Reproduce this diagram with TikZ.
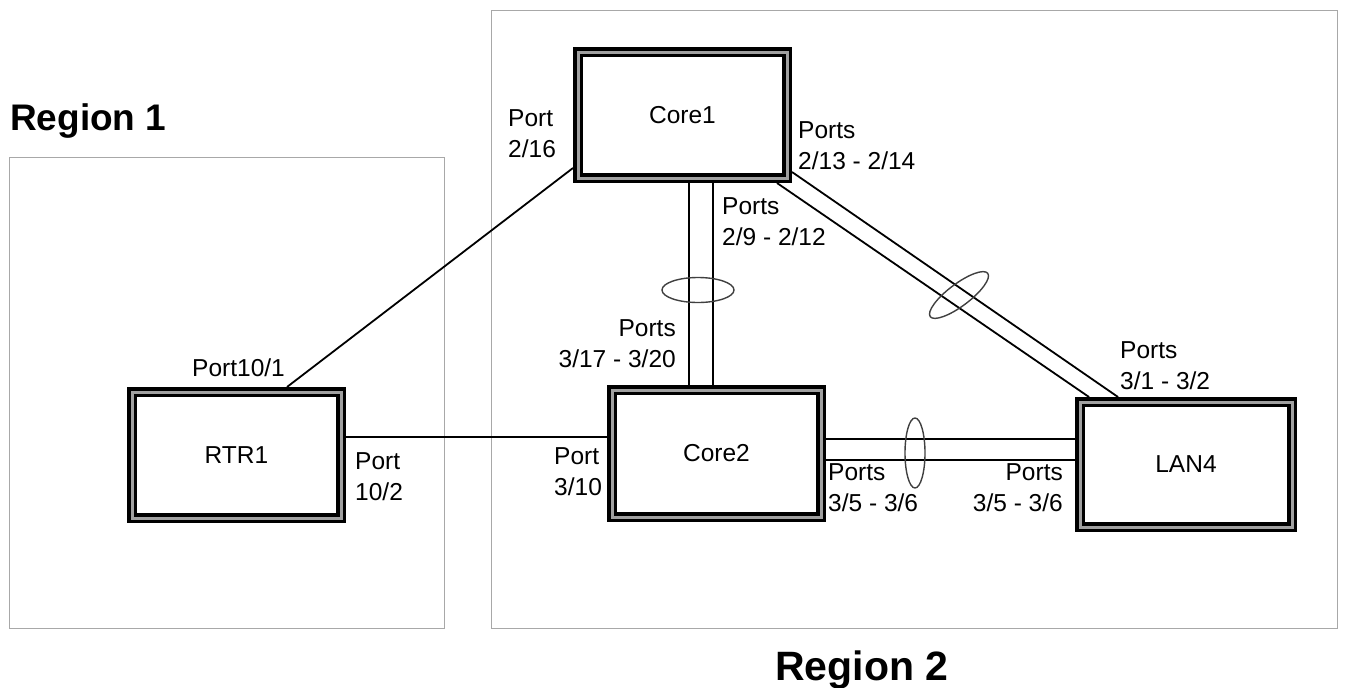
\documentclass[tikz,border=0pt]{standalone}
\usepackage{fontspec}
\setmainfont{Liberation Sans}
\usetikzlibrary{calc}
\pgfdeclarelayer{background}
\pgfsetlayers{background,main}
\definecolor{boxgray}{HTML}{A0A0A0}
\definecolor{regiongray}{HTML}{A8A8A8}
\begin{document}
\begin{tikzpicture}[x=1pt,y=-1pt,
  device/.style={draw=black, line width=3.5pt, double=boxgray, double distance=3pt,
    fill=white, rectangle, inner sep=0pt, outer sep=5pt,
    minimum width=209pt, minimum height=126pt,
    font=\fontsize{24.5}{30}\selectfont},
  lbl/.style={inner sep=0pt, font=\fontsize{24.5}{31.5}\selectfont, align=left},
  lblr/.style={inner sep=0pt, font=\fontsize{24.5}{31.5}\selectfont, align=right},
  link/.style={line width=1.8pt, draw=black},
  lag/.style={line width=1.4pt, draw=black!75},
  region/.style={draw=regiongray, line width=1pt},
  regionlbl/.style={inner sep=0pt, font=\bfseries\fontsize{37}{40}\selectfont}]
\useasboundingbox (0,0) rectangle (1347,688);

% devices
\node[device] (core1) at (682.5,115) {Core1};
\node[device, minimum height=127pt] (core2) at (716.5,453.5) {Core2};
\node[device] (rtr1) at (236.5,455) {RTR1};
\node[device, minimum width=212pt, minimum height=125pt] (lan4) at (1186,464.5) {LAN4};

% helper coordinates
\coordinate (v1) at (689,0);
\coordinate (v2) at (713,0);
\coordinate (h0) at (0,437);
\coordinate (h1) at (0,439);
\coordinate (h2) at (0,460);

\begin{pgfonlayer}{background}
  \draw[region] (9,157) rectangle (444,628);
  \draw[region] (491,10) rectangle (1337,628);
  \draw[link] ([xshift=160pt]rtr1.north west) -- ([yshift=15pt]core1.south west);
  \draw[link] (rtr1.east |- h0) -- (core2.west |- h0);
  \draw[link] (core1.south -| v1) -- (core2.north -| v1);
  \draw[link] (core1.south -| v2) -- (core2.north -| v2);
  \draw[link] ([xshift=-15pt]core1.south east) -- ([xshift=14pt]lan4.north west);
  \draw[link] ([yshift=11pt]core1.south east) -- ([xshift=43pt]lan4.north west);
  \draw[link] (core2.east |- h1) -- (lan4.west |- h1);
  \draw[link] (core2.east |- h2) -- (lan4.west |- h2);
\end{pgfonlayer}

% link aggregation ellipses
\draw[lag] (698,290) ellipse [x radius=36, y radius=12.5];
\draw[lag, rotate around={37:(959,295)}] (959,295) ellipse [x radius=36, y radius=11];
\draw[lag] (915,453) ellipse [x radius=10, y radius=35];

% port labels
\node[lbl, anchor=north west] (l216) at (508,109) {Port\\2/16};
\node[lbl, anchor=north west] (l1314) at (798,121) {Ports\\2/13 - 2/14};
\node[lbl, anchor=north west] (l912) at (722,197) {Ports\\2/9 - 2/12};
\node[lblr, anchor=north east] (l1720) at (676,319) {Ports\\3/17 - 3/20};
\node[lbl, anchor=north west] (l101) at (192,359) {Port10/1};
\node[lbl, anchor=north west] (l102) at (355,452) {Port\\10/2};
\node[lbl, anchor=north west] (l310) at (554,447) {Port\\3/10};
\node[lbl, anchor=north west] (l0102) at (1120,341) {Ports\\3/1 - 3/2};
\node[lbl, anchor=north west] (l56a) at (828,463) {Ports\\3/5 - 3/6};
\node[lblr, anchor=north east] (l56b) at (1063,463) {Ports\\3/5 - 3/6};

% region labels
\node[regionlbl, anchor=base west] (r1) at (10,130) {Region 1};
\node[regionlbl, anchor=base west, font=\bfseries\fontsize{41}{44}\selectfont] (r2) at (775,680) {Region 2};
\end{tikzpicture}
\end{document}
